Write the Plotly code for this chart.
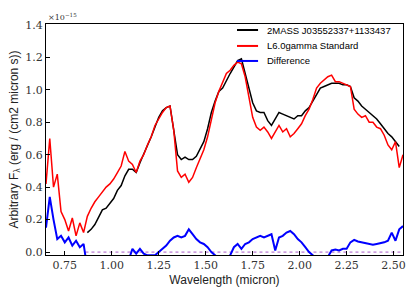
import plotly.graph_objects as go

# Wavelength grid (micron)
wave = [0.65, 0.67, 0.69, 0.71, 0.73, 0.75, 0.77, 0.79, 0.81, 0.83,
        0.85, 0.87, 0.89, 0.91, 0.93, 0.95, 0.97, 0.99, 1.01, 1.03,
        1.05, 1.07, 1.09, 1.11, 1.13, 1.15, 1.17, 1.19, 1.21, 1.23,
        1.25, 1.27, 1.29, 1.31, 1.33, 1.35, 1.37, 1.39, 1.41, 1.43,
        1.45, 1.47, 1.49, 1.51, 1.53, 1.55, 1.57, 1.59, 1.61, 1.63,
        1.65, 1.67, 1.69, 1.71, 1.73, 1.75, 1.77, 1.79, 1.81, 1.83,
        1.85, 1.87, 1.89, 1.91, 1.93, 1.95, 1.97, 1.99, 2.01, 2.03,
        2.05, 2.07, 2.09, 2.11, 2.13, 2.15, 2.17, 2.19, 2.21, 2.23,
        2.25, 2.27, 2.29, 2.31, 2.33, 2.35, 2.37, 2.39, 2.41, 2.43,
        2.45, 2.47, 2.49, 2.51, 2.53, 2.55]

# L6.0gamma Standard (red)
standard = [0.42, 0.70, 0.40, 0.48, 0.25, 0.20, 0.13, 0.21, 0.10, 0.18,
            0.12, 0.22, 0.27, 0.31, 0.34, 0.37, 0.40, 0.42, 0.45, 0.49,
            0.53, 0.62, 0.56, 0.54, 0.49, 0.56, 0.60, 0.66, 0.71, 0.78,
            0.82, 0.86, 0.89, 0.90, 0.75, 0.50, 0.46, 0.48, 0.43, 0.46,
            0.52, 0.57, 0.63, 0.71, 0.82, 0.92, 0.99, 1.05, 1.10, 1.12,
            1.15, 1.17, 1.16, 1.08, 0.96, 0.83, 0.77, 0.75, 0.77, 0.74,
            0.70, 0.74, 0.78, 0.74, 0.76, 0.71, 0.73, 0.76, 0.79, 0.84,
            0.88, 0.94, 1.01, 1.04, 1.06, 1.08, 1.09, 1.05, 1.05, 1.04,
            1.03, 1.02, 0.88, 0.85, 0.83, 0.84, 0.80, 0.80, 0.77, 0.76,
            0.72, 0.66, 0.63, 0.68, 0.52, 0.60]

# 2MASS J03552337+1133437 (black), starts at 0.87 micron
wave_obj = wave[11:95]
target = [0.12, 0.14, 0.17, 0.22, 0.26, 0.27, 0.30, 0.33, 0.38,
          0.41, 0.47, 0.51, 0.51, 0.49, 0.55, 0.60, 0.66, 0.71, 0.77,
          0.83, 0.87, 0.89, 0.90, 0.75, 0.60, 0.57, 0.585, 0.57, 0.57,
          0.59, 0.64, 0.68, 0.76, 0.86, 0.93, 0.99, 1.01, 1.06, 1.10,
          1.14, 1.18, 1.19, 1.10, 1.02, 0.92, 0.87, 0.86, 0.86, 0.81,
          0.78, 0.82, 0.86, 0.85, 0.84, 0.83, 0.82, 0.84, 0.84, 0.87,
          0.89, 0.93, 0.97, 1.01, 1.02, 1.03, 1.04, 1.04, 1.04, 1.03,
          1.03, 1.02, 0.95, 0.93, 0.90, 0.88, 0.86, 0.84, 0.82, 0.79,
          0.76, 0.73, 0.71, 0.68, 0.65]

# Difference (blue)
difference = [0.15, 0.34, 0.20, 0.08, 0.10, 0.06, 0.09, 0.04, 0.07, 0.03,
              0.05, -0.10, -0.13, -0.14, -0.12, -0.11, -0.13, -0.12, -0.12, -0.11,
              -0.12, -0.15, -0.05, 0.02, -0.01, 0.02, -0.01, -0.02, -0.02, -0.02,
              0.0, 0.02, 0.04, 0.07, 0.09, 0.10, 0.09, 0.10, 0.14, 0.11,
              0.08, 0.06, 0.05, 0.03, 0.0, -0.02, -0.04, -0.04, -0.04, -0.02,
              0.03, 0.05, 0.02, 0.05, 0.06, 0.08, 0.09, 0.10, 0.09, 0.10,
              0.11, 0.01, 0.09, 0.10, 0.12, 0.13, 0.11, 0.08, 0.06, 0.03,
              0.0, -0.02, -0.04, -0.03, -0.04, -0.03, 0.01, 0.015, 0.01, 0.02,
              0.02, 0.06, 0.075, 0.065, 0.06, 0.055, 0.05, 0.045, 0.05, 0.055,
              0.06, 0.07, 0.12, 0.07, 0.14, 0.16]

zero_x = [0.86, 2.55]
zero_y = [0.0, 0.0]

x_ticks = [0.75, 1.00, 1.25, 1.50, 1.75, 2.00, 2.25, 2.50]
y_ticks = [0.0, 0.2, 0.4, 0.6, 0.8, 1.0, 1.2, 1.4]

legend_names = ["2MASS J03552337+1133437", "L6.0gamma Standard", "Difference"]
legend_colors = ["black", "red", "blue"]

fig = go.Figure()
fig.add_trace(go.Scatter(x=zero_x, y=zero_y, mode="lines", showlegend=False,
                         line=dict(color="rgb(170,90,200)", width=1, dash="dot")))
fig.add_trace(go.Scatter(x=wave_obj, y=target, mode="lines", showlegend=False,
                         name=legend_names[0],
                         line=dict(color=legend_colors[0], width=1.5)))
fig.add_trace(go.Scatter(x=wave, y=standard, mode="lines", showlegend=False,
                         name=legend_names[1],
                         line=dict(color=legend_colors[1], width=1.5)))
fig.add_trace(go.Scatter(x=wave, y=difference, mode="lines", showlegend=False,
                         name=legend_names[2],
                         line=dict(color=legend_colors[2], width=2)))

# manual legend (line sample + label)
leg_y = [0.974, 0.905, 0.840]
shapes = []
annotations = []
for name, col, yy in zip(legend_names, legend_colors, leg_y):
    shapes.append(dict(type="line", xref="paper", yref="paper",
                       x0=0.535, x1=0.594, y0=yy, y1=yy,
                       line=dict(color=col, width=2)))
    annotations.append(dict(text=name, xref="paper", yref="paper",
                            x=0.613, y=yy, xanchor="left", yanchor="middle",
                            showarrow=False,
                            font=dict(family="Liberation Sans", size=9.5, color="black")))
annotations.append(dict(text="×10<sup>−15</sup>", xref="paper", yref="paper",
                        x=0, y=1, xanchor="left", yanchor="bottom",
                        showarrow=False,
                        font=dict(family="DejaVu Serif", size=8, color="#333")))

tickfont = dict(family="DejaVu Serif", size=11, color="#333")
fig.update_layout(
    width=411, height=297,
    margin=dict(l=46, r=8, t=24, b=42),
    paper_bgcolor="white", plot_bgcolor="white",
    font=dict(family="Liberation Sans", size=12, color="#222"),
    showlegend=False,
    shapes=shapes,
    annotations=annotations,
    xaxis=dict(range=[0.65, 2.55], tickvals=x_ticks, tickformat=".2f",
               ticks="inside", ticklen=4, tickcolor="black",
               showline=True, linecolor="black", linewidth=1, mirror=True,
               showgrid=False, zeroline=False, tickfont=tickfont, automargin=False,
               title=dict(text="Wavelength (micron)", font=dict(size=12), standoff=4)),
    yaxis=dict(range=[-0.018, 1.405], tickvals=y_ticks, tickformat=".1f",
               ticks="inside", ticklen=4, tickcolor="black",
               showline=True, linecolor="black", linewidth=1, mirror=True,
               showgrid=False, zeroline=False, tickfont=tickfont, automargin=False,
               title=dict(text="Arbitrary F<sub>λ</sub> (erg / (cm2 micron s))",
                          font=dict(size=12), standoff=4)),
)

fig.write_html("out.html", config={"displayModeBar": False},
               post_script="document.body.style.margin='0';document.body.style.padding='0';")
